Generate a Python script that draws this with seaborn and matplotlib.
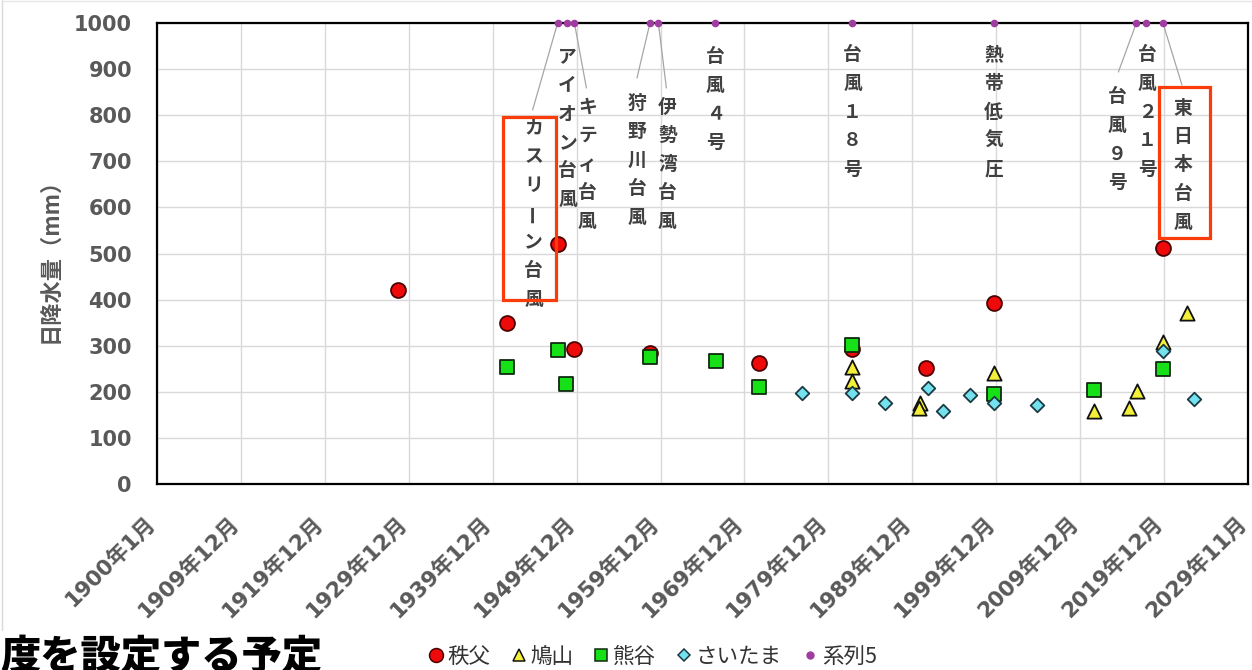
import matplotlib
matplotlib.use("Agg")
import matplotlib.pyplot as plt
import matplotlib.dates as mdates
import matplotlib.transforms as mtransforms
from matplotlib.patches import Rectangle
from matplotlib.lines import Line2D
import pandas as pd
import seaborn as sns
from datetime import datetime, timedelta

# ---- data: daily rainfall (mm) at each station during major storms ----
chichibu_dates = ["1928-09", "1941-09", "1947-09", "1949-09", "1958-09",
                  "1971-09", "1982-09", "1991-08", "1999-08", "2019-10"]
chichibu_mm = [420, 350, 520, 293, 285, 262, 292, 252, 393, 511]

hatoyama_dates = ["1982-09", "1982-09", "1990-11", "1990-10", "1999-08",
                  "2011-08", "2015-09", "2016-09", "2019-10", "2022-08"]
hatoyama_mm = [253, 224, 175, 165, 241, 159, 164, 202, 309, 372]

kumagaya_dates = ["1941-09", "1947-09", "1948-09", "1958-09", "1966-07",
                  "1971-09", "1982-09", "1999-08", "2011-07", "2019-10"]
kumagaya_mm = [254, 291, 218, 276, 266, 211, 301, 195, 204, 249]

saitama_dates = ["1976-10", "1982-09", "1986-09", "1991-10", "1993-08",
                 "1996-10", "1999-08", "2004-10", "2019-10", "2023-06"]
saitama_mm = [198, 198, 176, 208, 158, 192, 175, 171, 288, 184]

# series 5: event markers pinned to the top of the axis
event_dates = ["1947-09", "1948-10", "1949-09", "1958-09", "1959-09", "1966-06",
               "1982-09", "1999-08", "2016-08", "2017-10", "2019-10"]
event_mm = [1000] * len(event_dates)
event_labels = ["カスリーン台風", "アイオン台風", "キティ台風", "狩野川台風", "伊勢湾台風",
                "台風４号", "台風１８号", "熱帯低気圧", "台風９号", "台風２１号", "東日本台風"]

series_names = ["秩父", "鳩山", "熊谷", "さいたま", "系列5"]
y_ticks = [0, 100, 200, 300, 400, 500, 600, 700, 800, 900, 1000]

# ---- layout ----
W, H, DPI = 1252, 670, 100
PX = 72 / DPI


def fx(px):
    return px / W


def fy(py):
    return 1 - py / H


# label placement for series 5 (pixel offsets from the marker: dx, first-char dy)
label_offsets = [(-24, 105), (1, 34), (13, 84), (-13, 80), (9, 84), (0, 34),
                 (1, 32), (0, 32), (-19, 74), (1, 32), (20, 85)]
# leader-line end points (pixel offsets), None where the label sits right below
leader_ends = [(-25, 87), None, (12, 65), (-13, 55), (8, 65), None,
               None, None, (-18, 49), None, (19, 62)]
CHAR_STEP = 28.5


def to_dates(lst):
    return pd.to_datetime([d + "-15" for d in lst])


sns.set_style("white")
plt.rcParams["font.family"] = ["Noto Sans CJK JP", "DejaVu Sans"]
TICK_FAMILY = ["DejaVu Sans", "Noto Sans CJK JP"]

fig = plt.figure(figsize=(W / DPI, H / DPI), dpi=DPI)
ax = fig.add_axes([fx(157), fy(484), fx(1248) - fx(157), fy(23) - fy(484)])

styles = [
    dict(marker="o", color="#ee0a0a", edgecolor="#4a0000", s=115),
    dict(marker="^", color="#f4f03a", edgecolor="#111111", s=105),
    dict(marker="s", color="#16e016", edgecolor="#102a10", s=105),
    dict(marker="D", color="#74e2ee", edgecolor="#1c3a44", s=48),
]
series = [(chichibu_dates, chichibu_mm), (hatoyama_dates, hatoyama_mm),
          (kumagaya_dates, kumagaya_mm), (saitama_dates, saitama_mm)]

for i, ((dts, vals), st, name) in enumerate(zip(series, styles, series_names)):
    df = pd.DataFrame({"date": to_dates(dts), "mm": vals})
    sns.scatterplot(data=df, x="date", y="mm", ax=ax, marker=st["marker"],
                    color=st["color"], edgecolor=st["edgecolor"], s=st["s"],
                    linewidth=1.3, zorder=3 + i, legend=False)

ev = pd.DataFrame({"date": to_dates(event_dates), "mm": event_mm})
sns.scatterplot(data=ev, x="date", y="mm", ax=ax, marker="o", color="#a03ca0",
                edgecolor="#a03ca0", s=30, linewidth=0, zorder=8, legend=False,
                clip_on=False)

# axes
start = datetime(1900, 1, 1)
ticks = [start + timedelta(days=3650 * k) for k in range(14)]
ax.set_xlim(ticks[0], ticks[-1])
ax.set_ylim(0, 1000)
ax.set_xticks(ticks)
ax.set_xticklabels([f"{t.year}年{t.month}月" for t in ticks], rotation=45,
                   ha="right", va="center", rotation_mode="anchor")
ax.set_yticks(y_ticks)
ax.set_xlabel("")
ax.set_ylabel("")
ax.grid(True, color="#d9d9d9", linewidth=1.0, zorder=0)
ax.set_axisbelow(True)
for sp in ax.spines.values():
    sp.set_visible(True)
    sp.set_color("black")
    sp.set_linewidth(1.6)
ax.tick_params(axis="both", length=0, labelcolor="#595959")
ax.tick_params(axis="y", pad=18)
ax.tick_params(axis="x", pad=26)
shift = mtransforms.ScaledTranslation(-5 / DPI, 0, fig.dpi_scale_trans)
for lab in ax.get_yticklabels():
    lab.set_fontweight("bold")
    lab.set_fontsize(15)
    lab.set_family(TICK_FAMILY)
for lab in ax.get_xticklabels():
    lab.set_fontweight("bold")
    lab.set_fontsize(15.5)
    lab.set_family(TICK_FAMILY)
    lab.set_transform(lab.get_transform() + shift)

fig.text(fx(50), fy(255), "日降水量（mm）", rotation=90, ha="center", va="center",
         fontsize=16, fontweight="bold", color="#595959")

# vertical storm labels
for d, label, (dx, dy), lead in zip(to_dates(event_dates), event_labels,
                                      label_offsets, leader_ends):
    xnum = mdates.date2num(d)
    if lead is not None:
        ax.annotate("", xy=(xnum, 1000), xycoords="data",
                    xytext=(lead[0] * PX, -lead[1] * PX), textcoords="offset points",
                    arrowprops=dict(arrowstyle="-", color="#a6a6a6", lw=0.9,
                                    shrinkA=0, shrinkB=0), zorder=2)
    for k, ch in enumerate(label):
        ax.annotate(ch, xy=(xnum, 1000), xycoords="data",
                    xytext=(dx * PX, -(dy + k * CHAR_STEP) * PX),
                    textcoords="offset points", ha="center", va="center",
                    fontsize=13.5, fontweight="bold", color="#404040",
                    rotation=90 if ch == "ー" else 0, zorder=9,
                    annotation_clip=False)

# highlight boxes
for (x0, y0, x1, y1) in [(503, 117, 556, 300), (1159, 87, 1210, 238)]:
    fig.patches.append(Rectangle((fx(x0), fy(y1)), fx(x1) - fx(x0), fy(y0) - fy(y1),
                                 transform=fig.transFigure, fill=False,
                                 edgecolor="#fa3c0a", linewidth=2.3, zorder=10))

# faint chart-area border
fig.lines.append(Line2D([fx(2), fx(2)], [fy(0), fy(630)], transform=fig.transFigure,
                        color="#d9d9d9", lw=1))
fig.lines.append(Line2D([fx(2), 1], [fy(1), fy(1)], transform=fig.transFigure,
                        color="#e6e6e6", lw=1))

# legend
handles = [
    Line2D([], [], ls="", marker="o", markerfacecolor="#ee0a0a",
           markeredgecolor="#4a0000", markersize=10, markeredgewidth=1.1),
    Line2D([], [], ls="", marker="^", markerfacecolor="#f4f03a",
           markeredgecolor="#111111", markersize=9, markeredgewidth=1.1),
    Line2D([], [], ls="", marker="s", markerfacecolor="#16e016",
           markeredgecolor="#102a10", markersize=9, markeredgewidth=1.1),
    Line2D([], [], ls="", marker="D", markerfacecolor="#74e2ee",
           markeredgecolor="#1c3a44", markersize=6.5, markeredgewidth=1.1),
    Line2D([], [], ls="", marker="o", markerfacecolor="#a03ca0",
           markeredgecolor="#a03ca0", markersize=5),
]
fig.legend(handles, series_names, loc="center", bbox_to_anchor=(fx(652), fy(657)),
           ncol=5, frameon=False, fontsize=15.5, handlelength=0.8, handletextpad=0.15,
           columnspacing=0.9, labelcolor="#333333")

fig.text(fx(0), fy(636), "度を設定する予定", ha="left", va="top", fontsize=29,
         fontweight="black", color="black")

fig.savefig("out.png", dpi=DPI)
